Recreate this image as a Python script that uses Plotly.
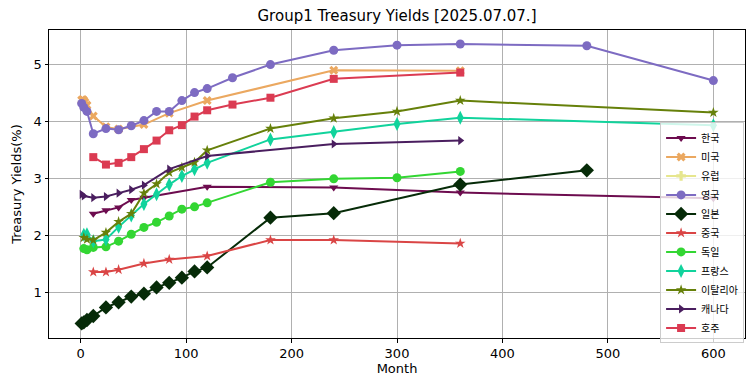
import plotly.graph_objects as go

TITLE = "Group1 Treasury Yields [2025.07.07.]"

kr_m = [12, 24, 36, 48, 60, 120, 240, 360, 600]
kr_y = [2.38, 2.44, 2.49, 2.62, 2.66, 2.85, 2.84, 2.75, 2.65]

us_m = [1, 2, 3, 4, 6, 12, 24, 36, 60, 84, 120, 240, 360]
us_y = [4.37, 4.38, 4.36, 4.33, 4.28, 4.09, 3.90, 3.86, 3.94, 4.14, 4.36, 4.89, 4.88]

eu_m = []
eu_y = []

uk_m = [1, 3, 6, 12, 24, 36, 48, 60, 72, 84, 96, 108, 120, 144, 180, 240, 300, 360, 480, 600]
uk_y = [4.31, 4.24, 4.17, 3.78, 3.87, 3.85, 3.92, 4.01, 4.17, 4.17, 4.36, 4.50, 4.57, 4.76,
        4.99, 5.24, 5.33, 5.35, 5.32, 4.71]

jp_m = [1, 3, 6, 12, 24, 36, 48, 60, 72, 84, 96, 108, 120, 180, 240, 360, 480]
jp_y = [0.46, 0.48, 0.52, 0.59, 0.74, 0.83, 0.93, 0.98, 1.09, 1.17, 1.26, 1.37, 1.44,
        2.31, 2.39, 2.89, 3.14]

cn_m = [12, 24, 36, 60, 84, 120, 180, 240, 360]
cn_y = [1.36, 1.36, 1.40, 1.51, 1.58, 1.64, 1.92, 1.92, 1.86]

de_m = [3, 6, 12, 24, 36, 48, 60, 72, 84, 96, 108, 120, 180, 240, 300, 360]
de_y = [1.77, 1.75, 1.79, 1.80, 1.90, 2.02, 2.14, 2.23, 2.34, 2.46, 2.50, 2.57,
        2.93, 2.99, 3.01, 3.12]

fr_m = [3, 6, 12, 24, 36, 48, 60, 72, 84, 96, 108, 120, 180, 240, 300, 360, 600]
fr_y = [2.01, 2.02, 1.90, 1.93, 2.15, 2.35, 2.55, 2.72, 2.89, 3.04, 3.16, 3.27,
        3.68, 3.81, 3.95, 4.06, 3.93]

it_m = [3, 6, 12, 24, 36, 48, 60, 72, 84, 96, 108, 120, 180, 240, 300, 360, 600]
it_y = [1.96, 1.93, 1.92, 2.05, 2.24, 2.38, 2.74, 2.90, 3.10, 3.19, 3.28, 3.49,
        3.87, 4.05, 4.17, 4.36, 4.15]

ca_m = [1, 3, 12, 24, 36, 48, 60, 84, 120, 240, 360]
ca_y = [2.72, 2.69, 2.66, 2.68, 2.74, 2.80, 2.88, 3.16, 3.39, 3.60, 3.66]

au_m = [12, 24, 36, 48, 60, 72, 84, 96, 108, 120, 144, 180, 240, 360]
au_y = [3.37, 3.24, 3.27, 3.37, 3.51, 3.66, 3.84, 3.93, 4.08, 4.19, 4.29, 4.41, 4.74, 4.85]

series = [
    ("한국", kr_m, kr_y, "#6d0c4f", "triangle-down", 8),
    ("미국", us_m, us_y, "#eba860", "x", 8),
    ("유럽", eu_m, eu_y, "#e6e68e", "cross", 8),
    ("영국", uk_m, uk_y, "#7d6bc2", "circle", 9),
    ("일본", jp_m, jp_y, "#062b08", "diamond", 11),
    ("중국", cn_m, cn_y, "#da4545", "star", 8),
    ("독일", de_m, de_y, "#33d633", "circle", 9),
    ("프랑스", fr_m, fr_y, "#11d39c", "diamond-tall", 10),
    ("이탈리아", it_m, it_y, "#66800a", "star", 8),
    ("캐나다", ca_m, ca_y, "#4a1e5f", "triangle-right", 8),
    ("호주", au_m, au_y, "#db3b52", "square", 8),
]

fig = go.Figure()
for name, xs, ys, col, sym, sz in series:
    fig.add_trace(go.Scatter(
        x=xs if xs else [None], y=ys if ys else [None], name=name, mode="lines+markers",
        line=dict(color=col, width=2),
        marker=dict(color=col, symbol=sym, size=sz, line=dict(width=0)),
    ))

fig.update_layout(
    width=755, height=391,
    margin=dict(l=48.5, r=9.5, t=30, b=52.5, autoexpand=False),
    paper_bgcolor="white", plot_bgcolor="white",
    font=dict(family="DejaVu Sans, Noto Sans CJK KR", size=13, color="black"),
    title=dict(text=TITLE, x=0.5, xref="paper", xanchor="center", y=1 - 16 / 391, yanchor="middle",
               font=dict(size=15)),
    legend=dict(x=0.878, y=0.70, xanchor="left", yanchor="top",
                bgcolor="rgba(255,255,255,0.8)", bordercolor="#cccccc", borderwidth=1,
                font=dict(size=10, family="Noto Sans CJK KR"), tracegroupgap=0, itemwidth=30),
    xaxis=dict(range=[-30, 630], tickvals=[0, 100, 200, 300, 400, 500, 600], automargin=False,
               showgrid=True, gridcolor="#b0b0b0", gridwidth=1, zeroline=False,
               showline=True, linecolor="black", linewidth=1, mirror=True,
               ticks="outside", ticklen=3.5, tickcolor="black",
               title=dict(text="Month", font=dict(size=13), standoff=3)),
    yaxis=dict(range=[0.205, 5.595], tickvals=[1, 2, 3, 4, 5], automargin=False,
               showgrid=True, gridcolor="#b0b0b0", gridwidth=1, zeroline=False,
               showline=True, linecolor="black", linewidth=1, mirror=True,
               ticks="outside", ticklen=3.5, tickcolor="black",
               title=dict(text="Treasury Yields(%)", font=dict(size=13), standoff=9)),
)

fig.write_html("out.html", config={"displayModeBar": False},
               post_script="document.body.style.margin='0';document.body.style.padding='0';")
